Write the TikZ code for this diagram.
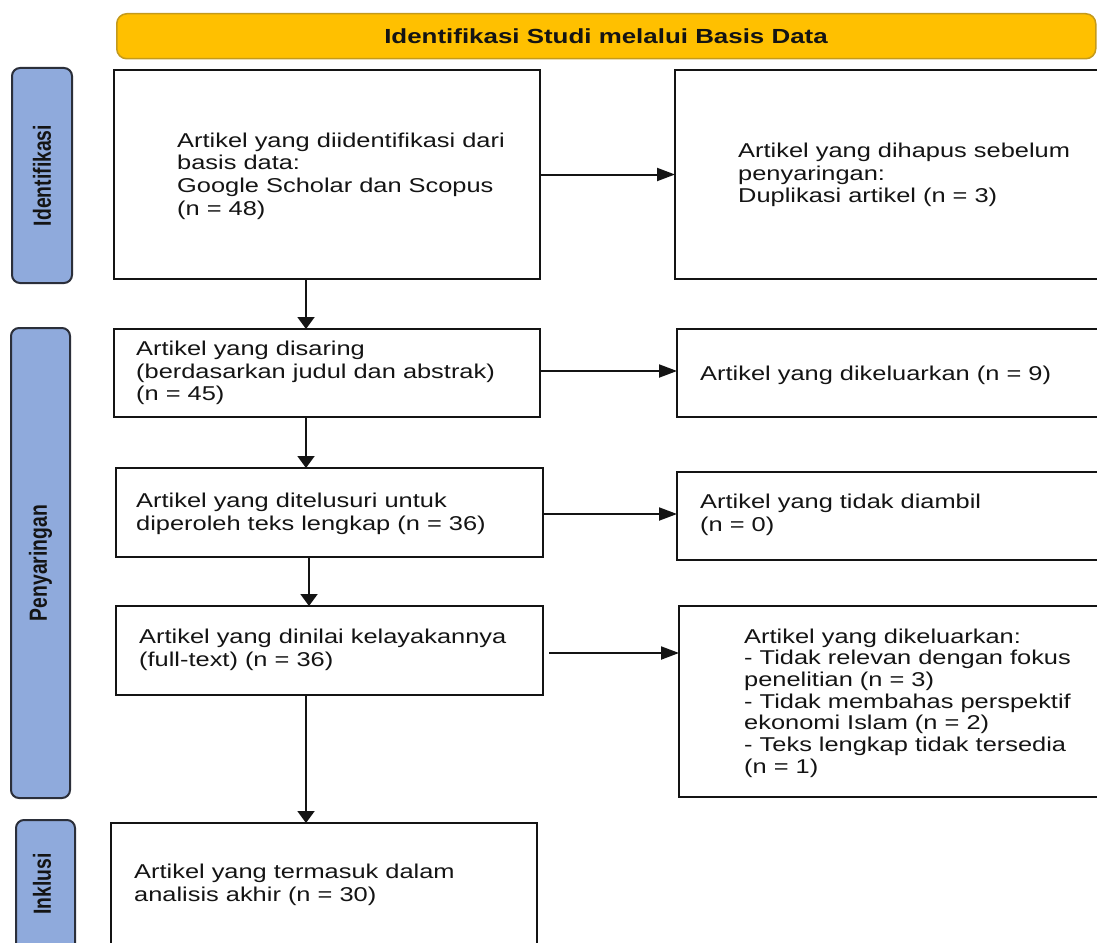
\documentclass[tikz,border=0pt]{standalone}
\usepackage{fontspec}
\setmainfont{Liberation Sans}[FakeStretch=1.27]
\newfontfamily\sidefont{Liberation Sans}[FakeStretch=0.78]
\usetikzlibrary{arrows.meta}
\definecolor{gold}{HTML}{FFC000}
\definecolor{goldline}{HTML}{C49A1C}
\definecolor{sideblue}{HTML}{8FAADC}
\definecolor{sideline}{HTML}{2B2F3A}
\definecolor{ink}{HTML}{141414}
\begin{document}
\begin{tikzpicture}[x=1pt,y=-1pt,
  box/.style={draw=ink, line width=2.2pt, fill=white, anchor=north west, inner sep=0pt, outer sep=0pt},
  side/.style={draw=sideline, line width=2pt, fill=sideblue, rounded corners=8pt, anchor=north west, inner sep=0pt, outer sep=0pt},
  txt/.style={anchor=west, align=left, inner sep=0pt, text=ink, font=\fontsize{20}{22.7}\selectfont},
  sidetxt/.style={rotate=90, inner sep=0pt, text=ink, font=\sidefont\bfseries\fontsize{24.8}{26}\selectfont},
  harrow/.style={draw=ink, line width=2pt, -{Triangle[length=18pt,width=13pt]}},
  varrow/.style={draw=ink, line width=2pt, -{Triangle[length=12pt,width=17pt]}}]
\useasboundingbox (0,0) rectangle (1097,942);
\clip (0,0) rectangle (1097,942);
\fill[white] (0,0) rectangle (1097,942);

% banner
\node[draw=goldline, line width=1.5pt, fill=gold, rounded corners=10pt, anchor=north west,
      minimum width=979pt, minimum height=45pt, inner sep=0pt] (banner) at (116,13) {};
\node[font=\bfseries\fontsize{20.4}{24}\selectfont, text=ink, inner sep=0pt] (bannertxt) at (606,36) {Identifikasi Studi melalui Basis Data};

% side labels
\node[side, minimum width=60pt, minimum height=215pt] (s1) at (12,68) {};
\node[sidetxt] (s1t) at (s1.center) {Identifikasi};
\node[side, minimum width=59pt, minimum height=470pt] (s2) at (11,328) {};
\node[sidetxt] (s2t) at (s2.center) {Penyaringan};
\node[side, minimum width=59pt, minimum height=160pt] (s3) at (16,820) {};
\node[sidetxt] (s3t) at (42,884) {Inklusi};

% left column
\node[box, minimum width=426pt, minimum height=209pt] (b1) at (114,70) {};
\node[txt] (t1) at (177,176) {Artikel yang diidentifikasi dari\\basis data:\\Google Scholar dan Scopus\\(n = 48)};
\node[box, minimum width=426pt, minimum height=88pt] (b2) at (114,329) {};
\node[txt] (t2) at (136,373) {Artikel yang disaring\\(berdasarkan judul dan abstrak)\\(n = 45)};
\node[box, minimum width=427pt, minimum height=89pt] (b3) at (116,468) {};
\node[txt] (t3) at (136,514) {Artikel yang ditelusuri untuk\\diperoleh teks lengkap (n = 36)};
\node[box, minimum width=427pt, minimum height=89pt] (b4) at (116,606) {};
\node[txt] (t4) at (139,650) {Artikel yang dinilai kelayakannya\\(full-text) (n = 36)};
\node[box, minimum width=426pt, minimum height=160pt] (b5) at (111,823) {};
\node[txt] (t5) at (134,885) {Artikel yang termasuk dalam\\analisis akhir (n = 30)};

% right column
\node[box, minimum width=440pt, minimum height=209pt] (r1) at (675,70) {};
\node[txt] (u1) at (738,175) {Artikel yang dihapus sebelum\\penyaringan:\\Duplikasi artikel (n = 3)};
\node[box, minimum width=440pt, minimum height=88pt] (r2) at (677,329) {};
\node[txt] (u2) at (700,375) {Artikel yang dikeluarkan (n = 9)};
\node[box, minimum width=440pt, minimum height=88pt] (r3) at (677,472) {};
\node[txt] (u3) at (700,515) {Artikel yang tidak diambil\\(n = 0)};
\node[box, minimum width=440pt, minimum height=191pt] (r4) at (679,606) {};
\node[txt, font=\fontsize{20}{21.7}\selectfont] (u4) at (744,703) {Artikel yang dikeluarkan:\\- Tidak relevan dengan fokus\\penelitian (n = 3)\\- Tidak membahas perspektif\\ekonomi Islam (n = 2)\\- Teks lengkap tidak tersedia\\(n = 1)};

% connectors
\coordinate (ax) at (306,0);
\draw[varrow] (b1.south -| ax) -- (b2.north -| ax);
\draw[varrow] (b2.south -| ax) -- (b3.north -| ax);
\coordinate (ax2) at (309,0);
\draw[varrow] (b3.south -| ax2) -- (b4.north -| ax2);
\draw[varrow] (b4.south -| ax) -- (b5.north -| ax);

\draw[harrow] (b1.east) -- (b1.east -| r1.west);
\draw[harrow] ([yshift=2pt]b2.east) -- ([yshift=2pt]b2.east -| r2.west);
\draw[harrow] ([yshift=-1.5pt]b3.east) -- ([yshift=-1.5pt]b3.east -| r3.west);
\draw[harrow, shorten <=6pt] ([yshift=-2.5pt]b4.east) -- ([yshift=-2.5pt]b4.east -| r4.west);
\end{tikzpicture}
\end{document}
